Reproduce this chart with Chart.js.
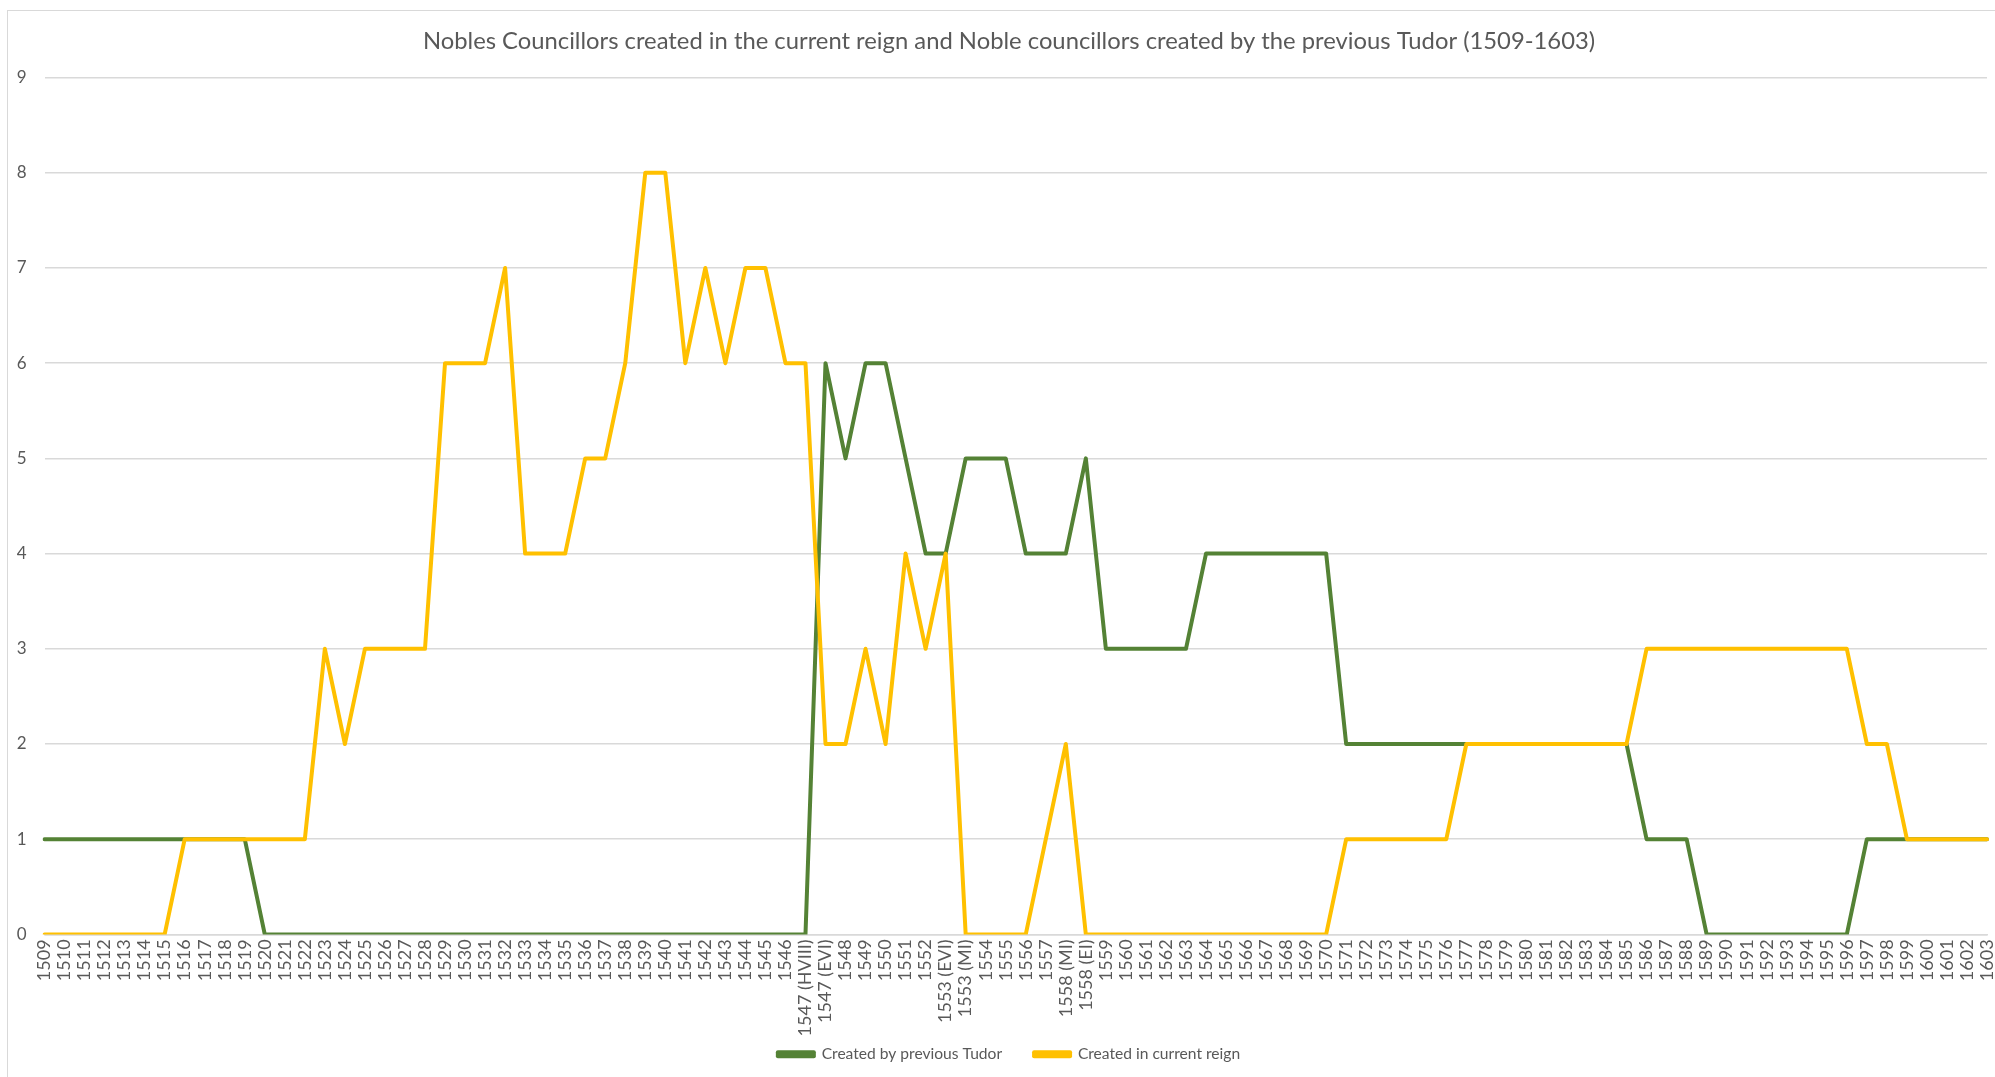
<!DOCTYPE html>
<html>
<head>
<meta charset="utf-8">
<title>Noble councillors 1509-1603</title>
<script src="https://cdn.jsdelivr.net/npm/chart.js@4/dist/chart.umd.min.js"></script>
<style>
  html, body { margin: 0; padding: 0; background: #ffffff; overflow: hidden; }
  #frame {
    position: absolute; left: 7px; top: 10px; width: 2100px; height: 1200px;
    border: 1.5px solid #d9d9d9; box-sizing: border-box; pointer-events: none;
  }
  #wrap { position: absolute; left: 0; top: 0; width: 1995px; height: 1077px; }
</style>
</head>
<body>
<div id="frame"></div>
<div id="wrap"><canvas id="chart" width="1995" height="1077"></canvas></div>
<script>
// Years of the councils; the reign changes in 1547, 1553 and 1558 appear twice.
const years = [
  "1509","1510","1511","1512","1513","1514","1515","1516","1517","1518",
  "1519","1520","1521","1522","1523","1524","1525","1526","1527","1528",
  "1529","1530","1531","1532","1533","1534","1535","1536","1537","1538",
  "1539","1540","1541","1542","1543","1544","1545","1546",
  "1547 (HVIII)","1547 (EVI)",
  "1548","1549","1550","1551","1552",
  "1553 (EVI)","1553 (MI)",
  "1554","1555","1556","1557",
  "1558 (MI)","1558 (EI)",
  "1559","1560","1561","1562","1563","1564","1565","1566","1567","1568",
  "1569","1570","1571","1572","1573","1574","1575","1576","1577","1578",
  "1579","1580","1581","1582","1583","1584","1585","1586","1587","1588",
  "1589","1590","1591","1592","1593","1594","1595","1596","1597","1598",
  "1599","1600","1601","1602","1603"
];

// Noble councillors created by the previous Tudor monarch
const createdByPreviousTudor = [
  1,1,1,1,1,1,1,1,1,1,
  1,0,0,0,0,0,0,0,0,0,
  0,0,0,0,0,0,0,0,0,0,
  0,0,0,0,0,0,0,0,
  0,6,
  5,6,6,5,4,
  4,5,
  5,5,4,4,
  4,5,
  3,3,3,3,3,4,4,4,4,4,
  4,4,2,2,2,2,2,2,2,2,
  2,2,2,2,2,2,2,1,1,1,
  0,0,0,0,0,0,0,0,1,1,
  1,1,1,1,1
];

// Noble councillors created in the current reign
const createdInCurrentReign = [
  0,0,0,0,0,0,0,1,1,1,
  1,1,1,1,3,2,3,3,3,3,
  6,6,6,7,4,4,4,5,5,6,
  8,8,6,7,6,7,7,6,
  6,2,
  2,3,2,4,3,
  4,0,
  0,0,0,1,
  2,0,
  0,0,0,0,0,0,0,0,0,0,
  0,0,1,1,1,1,1,1,2,2,
  2,2,2,2,2,2,2,3,3,3,
  3,3,3,3,3,3,3,3,2,2,
  1,1,1,1,1
];

const yTicks = [0,1,2,3,4,5,6,7,8,9];

const chartTitle = "Nobles Councillors created in the current reign and Noble councillors created by the previous Tudor (1509-1603)";
const seriesNames = ["Created by previous Tudor", "Created in current reign"];

const GREEN = "#548235";
const GOLD = "#FFC000";
const TEXT = "#595959";
const GRID = "#d9d9d9";
const FONT = "Lato, 'Open Sans', sans-serif";

// Let tick labels run past their scale box instead of being clipped to it.
const noLabelClip = (scale) => { scale._computeLabelArea = () => undefined; };

new Chart(document.getElementById("chart"), {
  type: "line",
  data: {
    labels: years,
    datasets: [
      {
        label: seriesNames[0],
        data: createdByPreviousTudor,
        borderColor: GREEN,
        backgroundColor: GREEN,
        borderWidth: 4,
        order: 1
      },
      {
        label: seriesNames[1],
        data: createdInCurrentReign,
        borderColor: GOLD,
        backgroundColor: GOLD,
        borderWidth: 4,
        order: 0
      }
    ]
  },
  options: {
    responsive: false,
    animation: false,
    devicePixelRatio: 1,
    layout: { padding: { left: 23, right: 0, top: 0, bottom: 5 } },
    elements: {
      line: { tension: 0, borderJoinStyle: "round", borderCapStyle: "round", fill: false },
      point: { radius: 0, hoverRadius: 0 }
    },
    plugins: {
      title: {
        display: true,
        text: chartTitle,
        color: TEXT,
        font: { family: FONT, size: 23.8, weight: "normal" },
        padding: { top: 27, bottom: 22 }
      },
      legend: {
        display: true,
        position: "bottom",
        labels: {
          color: TEXT,
          font: { family: FONT, size: 15.6 },
          boxWidth: 36,
          boxHeight: 4,
          padding: 32,
          sort: (a, b) => a.datasetIndex - b.datasetIndex
        }
      },
      tooltip: { enabled: false }
    },
    scales: {
      x: {
        type: "category",
        offset: false,
        grid: { display: false, drawTicks: false },
        border: { display: true, color: GRID, width: 1.5 },
        ticks: {
          color: TEXT,
          font: { family: FONT, size: 18 },
          autoSkip: false,
          minRotation: 90,
          maxRotation: 90,
          padding: 5
        },
        afterFit: (scale) => {
          scale.height = 80;
          scale.paddingLeft = 0;
          scale.paddingRight = 8;
          noLabelClip(scale);
        }
      },
      y: {
        min: 0,
        max: 9,
        grid: { color: GRID, lineWidth: 1.5, drawTicks: false },
        border: { display: false },
        ticks: {
          stepSize: 1,
          color: TEXT,
          font: { family: FONT, size: 17 },
          padding: 18,
          callback: (v) => (yTicks.includes(v) ? String(v) : "")
        },
        afterFit: (scale) => {
          scale.width = 21.5;
          noLabelClip(scale);
        }
      }
    }
  }
});
</script>
</body>
</html>
